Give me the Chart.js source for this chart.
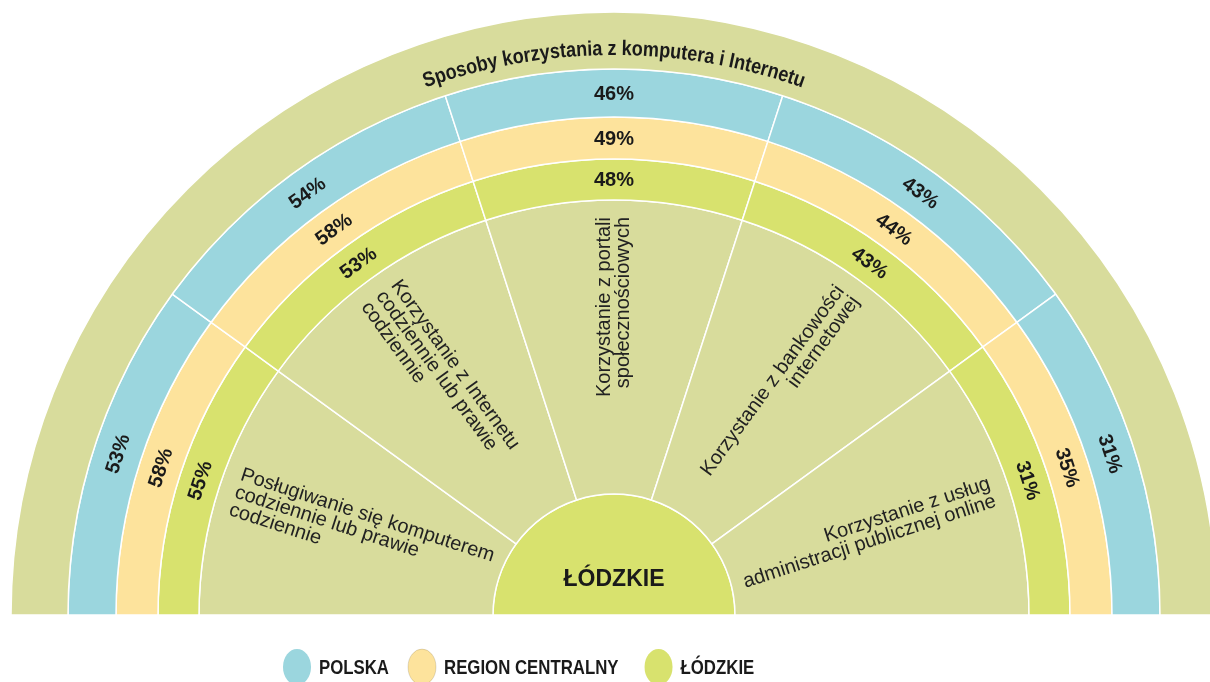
<!DOCTYPE html>
<html>
<head>
<meta charset="utf-8">
<script src="https://cdn.jsdelivr.net/npm/chart.js@4.4.1/dist/chart.umd.min.js"></script>
<style>
  html, body { margin: 0; padding: 0; background: #ffffff; }
  #wrap { width: 1210px; height: 682px; }
</style>
</head>
<body>
<div id="wrap"><canvas id="c" width="1210" height="682"></canvas></div>
<script>
// ---- data ----
const chartTitle = "Sposoby korzystania z komputera i Internetu";
const categories = [
  ["Posługiwanie się komputerem", "codziennie lub prawie", "codziennie"],
  ["Korzystanie z Internetu", "codziennie lub prawie", "codziennie"],
  ["Korzystanie z portali", "społecznościowych"],
  ["Korzystanie z bankowości", "internetowej"],
  ["Korzystanie z usług", "administracji publicznej online"]
];
const seriesNames = ["POLSKA", "REGION CENTRALNY", "ŁÓDZKIE"];
const polska = [53, 54, 46, 43, 31];
const regionCentralny = [58, 58, 49, 44, 35];
const lodzkie = [55, 53, 48, 43, 31];
const centerLabel = "ŁÓDZKIE";

// ---- styles ----
const OLIVE = '#d8dc9c', BLUE = '#9bd6de', YELLOW = '#fde39c', GREEN = '#d8e26e';
const TEXT = '#1a1a1a';
const FONT = '"Liberation Sans", Arial, Helvetica, sans-serif';
const seriesColors = [BLUE, YELLOW, GREEN];
const seriesValues = [polska, regionCentralny, lodzkie];
const ringWeights = [48, 42, 41];
const sectors = categories.map(() => 1); // equal sectors, one per category

const datasets = [
  { label: 'title', data: [1], backgroundColor: OLIVE, weight: 57 },
  ...seriesNames.map((name, i) => ({
    label: name, data: sectors, backgroundColor: seriesColors[i], weight: ringWeights[i], values: seriesValues[i]
  })),
  { label: 'categories', data: sectors, backgroundColor: OLIVE, weight: 294 },
  { label: 'center', data: [1], backgroundColor: GREEN, weight: 121 }
].map(d => Object.assign({ borderColor: '#ffffff', borderWidth: 1.5 }, d));

function arcText(ctx, text, cx, cy, r, hs) {
  const chars = [...text];
  const widths = chars.map(ch => ctx.measureText(ch).width * hs);
  const total = widths.reduce((a, b) => a + b, 0);
  let a = -Math.PI / 2 - total / (2 * r);
  chars.forEach((ch, i) => {
    const ac = a + (widths[i] / 2) / r;
    ctx.save();
    ctx.translate(cx + r * Math.cos(ac), cy + r * Math.sin(ac));
    ctx.rotate(ac + Math.PI / 2);
    ctx.scale(hs, 1);
    ctx.fillText(ch, 0, 0);
    ctx.restore();
    a += widths[i] / r;
  });
}

const labelsPlugin = {
  id: 'labels',
  afterDatasetsDraw(chart) {
    const ctx = chart.ctx;
    ctx.save();
    ctx.fillStyle = TEXT;

    // curved title on outer band
    const band = chart.getDatasetMeta(0).data[0].getProps(['x', 'y', 'innerRadius', 'outerRadius'], true);
    ctx.font = 'bold 21px ' + FONT;
    ctx.textAlign = 'center';
    ctx.textBaseline = 'alphabetic';
    arcText(ctx, chartTitle, band.x, band.y, band.innerRadius + 14, 0.86);

    // value labels on the three rings
    ctx.font = 'bold 20px ' + FONT;
    ctx.textAlign = 'center';
    ctx.textBaseline = 'middle';
    for (let s = 0; s < seriesNames.length; s++) {
      const meta = chart.getDatasetMeta(s + 1);
      const vals = chart.data.datasets[s + 1].values;
      meta.data.forEach((arc, i) => {
        const p = arc.getProps(['x', 'y', 'startAngle', 'endAngle', 'innerRadius', 'outerRadius'], true);
        const mid = (p.startAngle + p.endAngle) / 2;
        const r = (p.innerRadius + p.outerRadius) / 2;
        ctx.save();
        ctx.translate(p.x + r * Math.cos(mid), p.y + r * Math.sin(mid));
        ctx.rotate(mid + Math.PI / 2);
        ctx.fillText(vals[i] + '%', 0, 1);
        ctx.restore();
      });
    }

    // category labels in the inner band
    ctx.font = '20px ' + FONT;
    ctx.fillStyle = '#222222';
    ctx.textBaseline = 'middle';
    const lh = 18.5;
    chart.getDatasetMeta(4).data.forEach((arc, i) => {
      const p = arc.getProps(['x', 'y', 'startAngle', 'endAngle', 'innerRadius', 'outerRadius'], true);
      const mid = (p.startAngle + p.endAngle) / 2;
      const r = p.outerRadius - 17;
      const leftSide = -mid > Math.PI / 2 + 0.01;
      const lines = categories[i];
      ctx.save();
      ctx.translate(p.x + r * Math.cos(mid), p.y + r * Math.sin(mid));
      ctx.rotate(leftSide ? Math.PI + mid : mid);
      ctx.textAlign = leftSide ? 'left' : 'right';
      lines.forEach((ln, k) => ctx.fillText(ln, 0, (k - (lines.length - 1) / 2) * lh));
      ctx.restore();
    });

    // center label
    ctx.fillStyle = TEXT;
    const c = chart.getDatasetMeta(5).data[0].getProps(['x', 'y', 'outerRadius'], true);
    ctx.font = 'bold 23px ' + FONT;
    ctx.textAlign = 'center';
    ctx.textBaseline = 'middle';
    ctx.fillText(centerLabel, c.x, c.y - c.outerRadius * 0.29);
    ctx.restore();
  },
  afterDraw(chart) {
    // legend
    const ctx = chart.ctx;
    const cy = chart.chartArea.bottom + 40;
    const hs = 0.8;
    let x = 283;
    ctx.save();
    ctx.font = 'bold 21px ' + FONT;
    ctx.textBaseline = 'middle';
    ctx.textAlign = 'left';
    seriesNames.forEach((name, i) => {
      ctx.beginPath();
      ctx.ellipse(x + 14, cy, 14, 18, 0, 0, Math.PI * 2);
      ctx.fillStyle = seriesColors[i];
      ctx.fill();
      if (i === 1) { ctx.strokeStyle = 'rgba(0,0,0,0.12)'; ctx.lineWidth = 1; ctx.stroke(); }
      const tx = x + 36;
      const w = ctx.measureText(name).width * hs;
      ctx.save();
      ctx.translate(tx, cy + 1);
      ctx.scale(hs, 1);
      ctx.fillStyle = TEXT;
      ctx.fillText(name, 0, 0);
      ctx.restore();
      x = tx + w + (i === 0 ? 19 : 26);
    });
    ctx.restore();
  }
};

new Chart(document.getElementById('c'), {
  type: 'doughnut',
  data: { labels: categories.map(c => c.join(' ')), datasets },
  options: {
    responsive: false,
    animation: false,
    events: [],
    rotation: -90,
    circumference: 180,
    cutout: 0,
    radius: 603,
    layout: { padding: { left: 18, right: 0, top: 0, bottom: 55 } },
    plugins: { legend: { display: false }, tooltip: { enabled: false }, title: { display: false } }
  },
  plugins: [labelsPlugin]
});
</script>
</body>
</html>
